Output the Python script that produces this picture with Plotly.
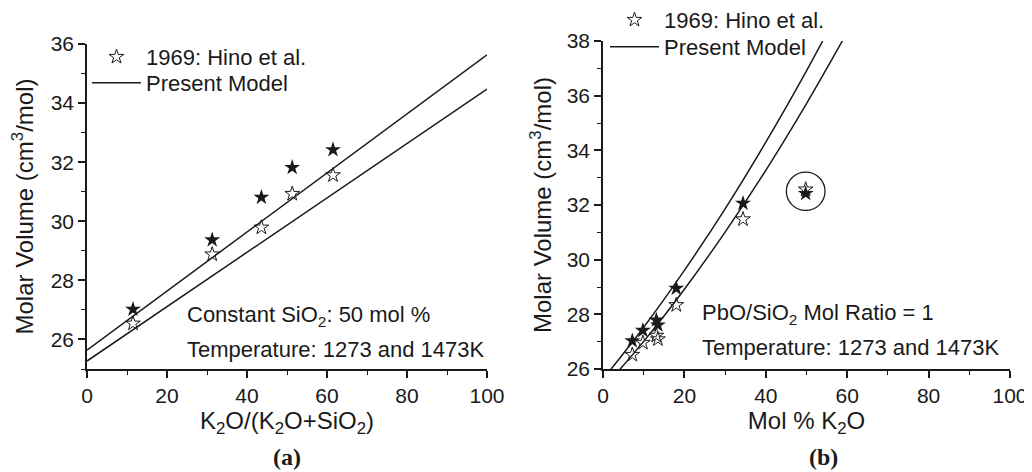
import plotly.graph_objects as go

# ---------------- data: panel (a) ----------------
a_x = [11.5, 31.3, 43.6, 51.3, 61.5]
a_hot = [27.02, 29.37, 30.81, 31.82, 32.42]      # filled stars
a_cold = [26.54, 28.88, 29.79, 30.93, 31.56]     # open stars
a_model_x = [0, 100]
a_model_hot = [25.64, 35.63]
a_model_cold = [25.27, 34.47]

# ---------------- data: panel (b) ----------------
b_x = [7.2, 9.8, 13.1, 13.5, 18.0, 34.4, 49.8]
b_hot = [27.03, 27.41, 27.79, 27.61, 28.95, 32.06, 32.42]
b_cold = [26.52, 26.96, 27.22, 27.09, 28.34, 31.48, 32.57]
b_model_x = [0, 10, 20, 30, 40, 50, 60]
b_model_hot = [25.63, 27.53, 29.61, 31.86, 34.30, 36.91, 39.69]
b_model_cold = [25.28, 27.01, 28.92, 31.01, 33.27, 35.71, 38.32]
circle_center = (49.8, 32.5)
circle_radius = (4.75, 0.7)

FONT = "Liberation Sans, Arial, sans-serif"
INK = "#1a1a1a"
W, H = 1032, 472
OFF = 8  # page body margin offset


def fx(px):
    return (px - OFF) / W


def fy(px):
    return 1 - (px - OFF) / H


fig = go.Figure()


def add_panel(xs, hot, cold, mx, mhot, mcold, xa, ya, leg_star, leg_line):
    fig.add_trace(go.Scatter(x=xs, y=cold, mode="markers", name="1969: Hino et al.",
                             marker=dict(symbol="star-open", size=11, color=INK, line=dict(width=1, color=INK)),
                             xaxis=xa, yaxis=ya, legend=leg_star, showlegend=True))
    fig.add_trace(go.Scatter(x=xs, y=hot, mode="markers", name="1969: Hino et al.",
                             marker=dict(symbol="star", size=12, color=INK, line=dict(width=0)),
                             xaxis=xa, yaxis=ya, legend=leg_star, showlegend=False))
    fig.add_trace(go.Scatter(x=mx, y=mhot, mode="lines", name="Present Model",
                             line=dict(color=INK, width=1.5, shape="spline"),
                             xaxis=xa, yaxis=ya, legend=leg_line, showlegend=True))
    fig.add_trace(go.Scatter(x=mx, y=mcold, mode="lines", name="Present Model",
                             line=dict(color=INK, width=1.5, shape="spline"),
                             xaxis=xa, yaxis=ya, legend=leg_line, showlegend=False))


add_panel(a_x, a_hot, a_cold, a_model_x, a_model_hot, a_model_cold, "x", "y", "legend", "legend3")
add_panel(b_x, b_hot, b_cold, b_model_x, b_model_hot, b_model_cold, "x2", "y2", "legend2", "legend4")


def ax(domain, rng, dtick, minor, title, tick0=0, standoff=10):
    return dict(domain=domain, range=rng, dtick=dtick, tick0=tick0, automargin=False,
                showgrid=False, zeroline=False, showline=True, linecolor=INK, linewidth=1.5,
                ticks="outside", ticklen=7, tickwidth=1.5, tickcolor=INK,
                minor=dict(dtick=minor, ticks="outside", ticklen=4, tickwidth=1.2, tickcolor=INK, showgrid=False),
                tickfont=dict(family=FONT, size=21, color=INK),
                title=dict(text=title, font=dict(family=FONT, size=24, color=INK), standoff=standoff),
                fixedrange=True)


ya_dom = [fy(369), fy(44)]
yb_dom = [fy(369), fy(41)]
xa_dom = [fx(87), fx(487)]
xb_dom = [fx(603), fx(1010)]


def leg(xpx, ypx):
    return dict(x=fx(xpx), y=fy(ypx), xanchor="left", yanchor="middle", bgcolor="rgba(0,0,0,0)",
                font=dict(family=FONT, size=22, color=INK), itemwidth=49, borderwidth=0)


ytitle = "Molar Volume (cm<sup>3</sup>/mol)"
fig.update_layout(
    width=W, height=H, margin=dict(l=0, r=0, t=0, b=0, autoexpand=False),
    paper_bgcolor="white", plot_bgcolor="white",
    font=dict(family=FONT, color=INK),
    xaxis=dict(**ax(xa_dom, [0, 100], 20, 10, "K<sub>2</sub>O/(K<sub>2</sub>O+SiO<sub>2</sub>)", standoff=3), anchor="y"),
    yaxis=dict(**ax(ya_dom, [25, 36], 2, 1, ytitle, tick0=26, standoff=13), anchor="x"),
    xaxis2=dict(**ax(xb_dom, [0, 100], 20, 10, "Mol % K<sub>2</sub>O", standoff=3), anchor="y2"),
    yaxis2=dict(**ax(yb_dom, [26, 38], 2, 1, ytitle, tick0=26, standoff=8), anchor="x2"),
    legend=leg(87, 57),
    legend3=leg(87, 83),
    legend2=leg(605, 20),
    legend4=leg(605, 47),
    showlegend=True,
)

# circle marking the outlier in (b)
fig.add_shape(type="circle", xref="x2", yref="y2",
              x0=circle_center[0] - circle_radius[0], x1=circle_center[0] + circle_radius[0],
              y0=circle_center[1] - circle_radius[1], y1=circle_center[1] + circle_radius[1],
              line=dict(color=INK, width=1.3))

notes = [
    ("x", "y", 24.4, 26.81, "Constant SiO<sub>2</sub>: 50 mol %"),
    ("x", "y", 24.4, 25.66, "Temperature: 1273 and 1473K"),
    ("x2", "y2", 23.8, 28.01, "PbO/SiO<sub>2</sub> Mol Ratio = 1"),
    ("x2", "y2", 23.8, 26.77, "Temperature: 1273 and 1473K"),
]
for xr, yr, x, y, t in notes:
    fig.add_annotation(xref=xr, yref=yr, x=x, y=y, text=t, showarrow=False,
                       xanchor="left", yanchor="middle",
                       font=dict(family=FONT, size=22, color=INK))

for lbl, px in [("(a)", 287), ("(b)", 823)]:
    fig.add_annotation(xref="paper", yref="paper", x=fx(px), y=fy(457), text="<b>" + lbl + "</b>",
                       showarrow=False, xanchor="center", yanchor="middle",
                       font=dict(family="Liberation Serif, Times New Roman, serif", size=24, color=INK))

fig.write_html("out.html")
